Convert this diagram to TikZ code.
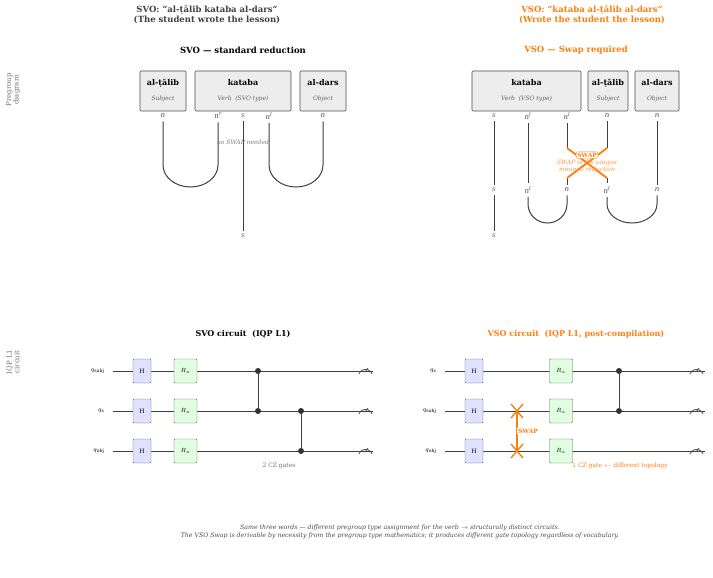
\documentclass[tikz,border=0pt]{standalone}
\usepackage{fontspec}
\setmainfont{DejaVu Serif}
\usetikzlibrary{calc}
\begin{document}
\begin{tikzpicture}[x=1pt,y=-1pt,
 word/.style={draw=black!70,fill=black!7,line width=0.7pt,rounded corners=1pt,minimum height=40pt,inner sep=0},
 wire/.style={draw=black!75,line width=1pt},
 lbl/.style={font=\fontsize{7}{7}\selectfont\itshape,text=black!75},
 gH/.style={draw=black!60,fill=blue!12,minimum width=18pt,minimum height=24pt,inner sep=0,rounded corners=1pt,font=\fontsize{6}{6}\selectfont},
 gR/.style={draw=black!60,fill=green!12,minimum width=23pt,minimum height=24pt,inner sep=0,rounded corners=1pt,font=\fontsize{6}{6}\selectfont},
 dot/.style={circle,fill=black!80,inner sep=0,minimum size=6pt},
 qlab/.style={font=\fontsize{6.5}{6.5}\selectfont,anchor=east}]
\definecolor{org}{RGB}{255,127,14}
\definecolor{grn}{RGB}{44,160,44}
\useasboundingbox[fill=white] (0,0) rectangle (713,578);
% titles
\node[font=\fontsize{8.5}{9.5}\selectfont\bfseries,text=black!75,align=center] (t1) at (207,15) {SVO: "al-ṭālib kataba al-dars"\\(The student wrote the lesson)};
\node[font=\fontsize{8.5}{9.5}\selectfont\bfseries,text=org,align=center] (t2) at (592,15) {VSO: "kataba al-ṭālib al-dars"\\(Wrote the student the lesson)};
\node[font=\fontsize{8.5}{9}\selectfont\bfseries] (s1) at (243,50) {SVO \textbf{—} standard reduction};
\node[font=\fontsize{8.5}{9}\selectfont\bfseries,text=org] (s2) at (576,50) {VSO \textbf{—} Swap required};
\node[rotate=90,font=\fontsize{7}{7.5}\selectfont,text=black!55,align=center] (side1) at (13,90) {Pregroup\\diagram};
\node[rotate=90,font=\fontsize{7}{7.5}\selectfont,text=black!55,align=center] (side2) at (13,362) {IQP L1\\circuit};
% left boxes
\node[word,minimum width=46pt,align=center] (w1) at (163,91) {\fontsize{8}{9}\selectfont\bfseries al-ṭālib\\[3pt]\fontsize{6}{6.5}\selectfont\itshape\mdseries\color{black!60} Subject};
\node[word,minimum width=96pt,align=center] (w2) at (243,91) {\fontsize{8}{9}\selectfont\bfseries kataba\\[3pt]\fontsize{6}{6.5}\selectfont\itshape\mdseries\color{black!60} Verb \ (SVO type)};
\node[word,minimum width=46pt,align=center] (w3) at (323,91) {\fontsize{8}{9}\selectfont\bfseries al-dars\\[3pt]\fontsize{6}{6.5}\selectfont\itshape\mdseries\color{black!60} Object};
\node[lbl] (a1) at (163,116) {n};
\node[lbl] (a2) at (218,116) {n\textsuperscript{r}};
\node[lbl,text=grn] (a3) at (243,116) {s};
\node[lbl] (a4) at (269,116) {n\textsuperscript{l}};
\node[lbl] (a5) at (323,116) {n};
\node[lbl,text=grn] (a6) at (243,236) {s};
\draw[wire] (a1.south) -- (163,165) arc[start angle=180,end angle=0,x radius=27.5,y radius=22] -- (a2.south);
\draw[wire] (a4.south) -- (269,165) arc[start angle=180,end angle=0,x radius=27,y radius=22] -- (a5.south);
\draw[wire] (a3.south) -- (a6.north);
\node[font=\fontsize{6}{6.5}\selectfont\itshape,text=black!50] (ns) at (243,142) {no SWAP needed};
% right boxes
\node[word,minimum width=109pt,align=center] (v1) at (526.5,91) {\fontsize{8}{9}\selectfont\bfseries kataba\\[3pt]\fontsize{6}{6.5}\selectfont\itshape\mdseries\color{black!60} Verb \ (VSO type)};
\node[word,minimum width=40pt,align=center] (v2) at (608,91) {\fontsize{8}{9}\selectfont\bfseries al-ṭālib\\[3pt]\fontsize{6}{6.5}\selectfont\itshape\mdseries\color{black!60} Subject};
\node[word,minimum width=44pt,align=center] (v3) at (657,91) {\fontsize{8}{9}\selectfont\bfseries al-dars\\[3pt]\fontsize{6}{6.5}\selectfont\itshape\mdseries\color{black!60} Object};
\node[lbl,text=grn] (b1) at (494,116) {s};
\node[lbl] (b2) at (528,116) {n\textsuperscript{l}};
\node[lbl] (b3) at (567,116) {n\textsuperscript{l}};
\node[lbl] (b4) at (607,116) {n};
\node[lbl] (b5) at (657,116) {n};
\node[lbl,text=grn] (c1) at (494,190) {s};
\node[lbl] (c2) at (528,190) {n\textsuperscript{l}};
\node[lbl] (c3) at (567,190) {n};
\node[lbl] (c4) at (607,190) {n\textsuperscript{l}};
\node[lbl] (c5) at (657,190) {n};
\node[lbl,text=grn] (c6) at (494,236) {s};
\draw[wire] (b1.south) -- (c1.north);
\draw[wire] (c1.south) -- (c6.north);
\draw[wire] (b2.south) -- (c2.north);
\draw[wire] (b5.south) -- (c5.north);
\draw[wire] (b3.south) -- (567,148);
\draw[wire] (b4.south) -- (607,148);
\draw[wire] (567,178) -- (c3.north);
\draw[wire] (607,178) -- (c4.north);
\draw[org,line width=1.8pt] (567,148) -- (607,178) (607,148) -- (567,178);
\draw[wire] (c2.south) -- (528,204) arc[start angle=180,end angle=0,x radius=19.5,y radius=19] -- (c3.south);
\draw[wire] (c4.south) -- (607,204) arc[start angle=180,end angle=0,x radius=25,y radius=19] -- (c5.south);
\node[draw=org,fill=white,rounded corners=1pt,inner sep=1pt,font=\fontsize{6}{6.5}\selectfont\bfseries,text=org] (sw) at (587,155) {SWAP};
\node[font=\fontsize{6}{7}\selectfont\itshape,text=org!80,align=center] (swt) at (587,166) {SWAP is the unique\\minimal reduction};
% left circuit
\node[font=\fontsize{8}{9}\selectfont\bfseries] (ct1) at (243,334) {SVO circuit \ (IQP L1)};
\foreach \y/\n/\t in {371/1/{$q_{\mathrm{subj}}$},411/2/{$q_{\mathrm{s}}$},451/3/{$q_{\mathrm{obj}}$}}{
 \node[qlab] (lq\n) at (108,\y) {\t};
 \coordinate (le\n) at (373,\y);
 \draw[wire] (113,\y) -- (le\n);
 \node[gH] (lh\n) at (142,\y) {H};
 \node[gR] (lr\n) at (185.5,\y) {$R_z$};
 \draw[black!70,line width=0.8pt] (359,\y+3) arc[start angle=200,end angle=340,radius=7];
 \draw[black!70,line width=0.8pt] (365,\y+1) -- (368,\y-3);
}
\node[dot] (ld1) at (258,371) {};
\node[dot] (ld2) at (258,411) {};
\node[dot] (ld3) at (301,411) {};
\node[dot] (ld4) at (301,451) {};
\draw[wire] (ld1) -- (ld2); \draw[wire] (ld3) -- (ld4);
\node[font=\fontsize{6}{6.5}\selectfont,text=black!55] (cz1) at (279,466) {2 CZ gates};
% right circuit
\node[font=\fontsize{8}{9}\selectfont\bfseries,text=org] (ct2) at (576,334) {VSO circuit \ (IQP L1, post-compilation)};
\foreach \y/\n/\t in {371/1/{$q_{\mathrm{s}}$},411/2/{$q_{\mathrm{subj}}$},451/3/{$q_{\mathrm{obj}}$}}{
 \node[qlab] (rq\n) at (440,\y) {\t};
 \coordinate (re\n) at (705,\y);
 \draw[wire] (445,\y) -- (re\n);
 \node[gH] (rh\n) at (474,\y) {H};
 \node[gR] (rr\n) at (561,\y) {$R_z$};
 \draw[black!70,line width=0.8pt] (690,\y+3) arc[start angle=200,end angle=340,radius=7];
 \draw[black!70,line width=0.8pt] (696,\y+1) -- (699,\y-3);
}
\coordinate (sx1) at (517,411); \coordinate (sx2) at (517,451);
\draw[org,line width=1.4pt] (sx1) -- (sx2);
\draw[org,line width=1.4pt] ($(sx1)+(-6,-7)$) -- ($(sx1)+(6,7)$) ($(sx1)+(6,-7)$) -- ($(sx1)+(-6,7)$);
\draw[org,line width=1.4pt] ($(sx2)+(-6,-7)$) -- ($(sx2)+(6,7)$) ($(sx2)+(6,-7)$) -- ($(sx2)+(-6,7)$);
\node[fill=white,inner sep=1pt,font=\fontsize{6}{6.5}\selectfont\bfseries,text=org] (swl) at (528,431) {SWAP};
\node[dot] (rd1) at (619,371) {};
\node[dot] (rd2) at (619,411) {};
\draw[wire] (rd1) -- (rd2);
\node[font=\fontsize{6}{6.5}\selectfont,text=org] (cz2) at (620,466) {1 CZ gate $\leftarrow$ different topology};
% caption
\node[font=\fontsize{6.2}{8}\selectfont\itshape,text=black!70,align=center] (cap) at (400,532) {Same three words --- different pregroup type assignment for the verb $\rightarrow$ structurally distinct circuits.\\The VSO Swap is derivable by necessity from the pregroup type mathematics; it produces different gate topology regardless of vocabulary.};
\end{tikzpicture}
\end{document}
